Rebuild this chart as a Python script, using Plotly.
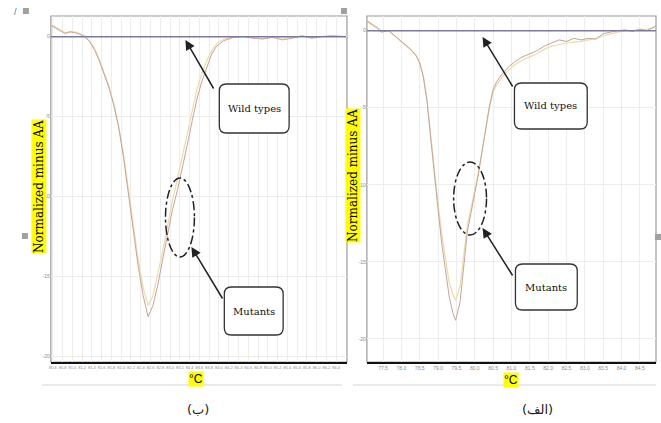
import plotly.graph_objects as go

W, H = 661, 423

# ---------------- data ----------------
# Panel (ب) - left
left_temp = [80.56, 80.65, 80.75, 80.85, 80.95, 81.05, 81.15, 81.25, 81.35, 81.45,
             81.55, 81.65, 81.75, 81.85, 81.95, 82.05, 82.15, 82.25, 82.35, 82.45,
             82.55, 82.65, 82.75, 82.85, 82.95, 83.05, 83.15, 83.25, 83.35, 83.45,
             83.55, 83.65, 83.75, 83.85, 83.95, 84.1, 84.3, 84.5, 84.7, 84.9,
             85.1, 85.3, 85.5, 85.7, 85.9, 86.1, 86.3, 86.6]
left_mutant_a = [0.7, 0.55, 0.35, 0.2, 0.3, 0.25, 0.15, 0.0, -0.3, -0.8,
                 -1.5, -2.3, -3.2, -4.3, -5.7, -7.6, -9.8, -12.2, -14.4, -16.2,
                 -17.5, -16.8, -15.5, -13.9, -12.3, -10.8, -9.6, -8.3, -6.8, -5.3,
                 -3.9, -2.8, -1.9, -1.1, -0.6, -0.25, -0.05, 0.0, -0.1, -0.15,
                 -0.05, -0.2, -0.1, 0.05, -0.1, 0.0, 0.05, 0.0]
left_mutant_b = [0.75, 0.6, 0.4, 0.25, 0.3, 0.3, 0.2, 0.05, -0.25, -0.7,
                 -1.4, -2.2, -3.1, -4.2, -5.6, -7.4, -9.6, -11.9, -14.0, -15.7,
                 -16.8, -16.2, -14.9, -13.4, -11.8, -10.2, -8.9, -7.5, -6.0, -4.6,
                 -3.3, -2.3, -1.5, -0.9, -0.45, -0.15, 0.0, 0.0, -0.05, -0.1,
                 0.0, -0.1, -0.05, 0.05, -0.05, 0.0, 0.05, 0.0]
left_wild_temp = [80.56, 86.6]
left_wild = [0.0, 0.0]
left_ticks = [80.6, 80.8, 81.0, 81.2, 81.4, 81.6, 81.8, 82.0, 82.2, 82.4,
              82.6, 82.8, 83.0, 83.2, 83.4, 83.6, 83.8, 84.0, 84.2, 84.4,
              84.6, 84.8, 85.0, 85.2, 85.4, 85.6, 85.8, 86.0, 86.2, 86.4]
left_tick_text = ["80.6", "80.8", "81.0", "81.2", "81.4", "81.6", "81.8", "82.0", "82.2", "82.4",
                  "82.6", "82.8", "83.0", "83.2", "83.4", "83.6", "83.8", "84.0", "84.2", "84.4",
                  "84.6", "84.8", "85.0", "85.2", "85.4", "85.6", "85.8", "86.0", "86.2", "86.4"]

# Panel (الف) - right
right_temp = [77.06, 77.2, 77.35, 77.45, 77.55, 77.65, 77.8, 77.95, 78.1, 78.25,
              78.4, 78.5, 78.6, 78.7, 78.8, 78.9, 79.0, 79.1, 79.2, 79.3,
              79.4, 79.48, 79.6, 79.7, 79.8, 79.9, 80.0, 80.1, 80.2, 80.3,
              80.4, 80.5, 80.6, 80.75, 80.9, 81.1, 81.3, 81.5, 81.7, 81.9,
              82.1, 82.3, 82.5, 82.7, 82.9, 83.1, 83.3, 83.5, 83.7, 83.9,
              84.1, 84.3, 84.5, 84.7, 84.94]
right_mutant_a = [0.6, 0.4, 0.15, -0.1, -0.05, 0.0, -0.3, -0.6, -0.9, -1.2,
                  -1.6, -2.1, -3.0, -4.6, -7.0, -9.5, -11.6, -13.8, -15.6, -17.2,
                  -18.3, -18.8, -17.6, -15.2, -13.0, -11.8, -10.6, -9.3, -7.8, -6.2,
                  -4.9, -3.8, -3.3, -2.8, -2.4, -2.0, -1.7, -1.5, -1.3, -1.0,
                  -0.8, -0.6, -0.7, -0.5, -0.6, -0.5, -0.55, -0.2, -0.1, 0.0,
                  0.05, -0.05, 0.1, 0.0, 0.3]
right_mutant_b = [0.65, 0.45, 0.2, 0.0, -0.05, 0.0, -0.3, -0.6, -0.95, -1.25,
                  -1.65, -2.1, -3.0, -4.5, -6.8, -9.2, -11.2, -13.2, -14.9, -16.3,
                  -17.1, -17.5, -16.6, -14.6, -12.6, -11.5, -10.4, -9.2, -7.8, -6.3,
                  -5.0, -4.0, -3.5, -3.0, -2.6, -2.2, -1.9, -1.7, -1.5, -1.2,
                  -1.0, -0.9, -0.8, -0.75, -0.7, -0.6, -0.5, -0.35, -0.2, -0.1,
                  0.0, 0.0, 0.05, 0.1, 0.25]
right_wild_temp = [77.06, 84.94]
right_wild = [0.0, 0.0]
right_ticks = [77.5, 78.0, 78.5, 79.0, 79.5, 80.0, 80.5, 81.0, 81.5, 82.0, 82.5, 83.0, 83.5, 84.0, 84.5]
right_tick_text = ["77.5", "78.0", "78.5", "79.0", "79.5", "80.0", "80.5", "81.0",
                   "81.5", "82.0", "82.5", "83.0", "83.5", "84.0", "84.5"]

y_ticks = [0, -5, -10, -15, -20]
y_tick_text = ["0", "-5", "-10", "-15", "-20"]

y_title = "Normalized minus AA"
x_title = "°C"
label_wild = "Wild types"
label_mut = "Mutants"
caption_left = "(ب)"
caption_right = "(الف)"

DARK = "#c6a39c"
LIGHT = "#ecdcaa"
ZERO = "#7a7a9c"
SERIF = "DejaVu Serif"


def px(x):
    return x / W


def py(y):
    return 1 - y / H


fig = go.Figure()

# left panel traces
fig.add_trace(go.Scatter(x=left_temp, y=left_mutant_b, mode="lines",
                         line=dict(color=LIGHT, width=1.2), xaxis="x", yaxis="y"))
fig.add_trace(go.Scatter(x=left_temp, y=left_mutant_a, mode="lines",
                         line=dict(color=DARK, width=1.0), xaxis="x", yaxis="y"))
fig.add_trace(go.Scatter(x=left_wild_temp, y=left_wild, mode="lines",
                         line=dict(color=ZERO, width=1.5), xaxis="x", yaxis="y"))
# right panel traces
fig.add_trace(go.Scatter(x=right_temp, y=right_mutant_b, mode="lines",
                         line=dict(color=LIGHT, width=1.2), xaxis="x2", yaxis="y2"))
fig.add_trace(go.Scatter(x=right_temp, y=right_mutant_a, mode="lines",
                         line=dict(color=DARK, width=1.0), xaxis="x2", yaxis="y2"))
fig.add_trace(go.Scatter(x=right_wild_temp, y=right_wild, mode="lines",
                         line=dict(color=ZERO, width=1.5), xaxis="x2", yaxis="y2"))

ltickfont = dict(family="Liberation Sans", size=4, color="#8a8a8a")
rtickfont = dict(family="Liberation Sans", size=5, color="#8a8a8a")
ytickfont = dict(family="Liberation Sans", size=5, color="#8a8a8a")

common_x = dict(showgrid=True, gridcolor="#ededed", gridwidth=1, zeroline=False,
                showline=True, linecolor="#111", linewidth=2, ticks="", tickangle=0,
                fixedrange=True)
common_y = dict(showgrid=True, gridcolor="#ededed", gridwidth=1, zeroline=False,
                showline=False, ticks="", tickfont=ytickfont, fixedrange=True,
                tickvals=y_ticks, ticktext=y_tick_text)

L_X0, L_X1, R_X0, R_X1 = 49, 346, 366, 656
TOP, BOT = 16, 362

fig.update_layout(
    width=W, height=H,
    margin=dict(l=0, r=0, t=0, b=0),
    paper_bgcolor="white", plot_bgcolor="white",
    showlegend=False,
    xaxis=dict(domain=[px(L_X0), px(L_X1)], range=[80.56, 86.62], tickfont=ltickfont,
               tickvals=left_ticks, ticktext=left_tick_text, anchor="y", **common_x),
    yaxis=dict(domain=[py(BOT), py(TOP)], range=[-20.33, 1.29], anchor="x", **common_y),
    xaxis2=dict(domain=[px(R_X0), px(R_X1)], range=[77.06, 84.94], tickfont=rtickfont,
                tickvals=right_ticks, ticktext=right_tick_text, anchor="y2", **common_x),
    yaxis2=dict(domain=[py(BOT), py(TOP)], range=[-21.5, 0.95], anchor="x2", **common_y),
)

shapes = []
# panel frames (grey)
for x0, x1 in [(L_X0, L_X1), (R_X0, R_X1)]:
    shapes.append(dict(type="rect", xref="paper", yref="paper",
                       x0=px(x0), x1=px(x1), y0=py(BOT), y1=py(TOP),
                       line=dict(color="#9a9a9a", width=1.2), layer="below"))
# separator lines under panels
shapes.append(dict(type="line", xref="paper", yref="paper", x0=px(40), x1=px(341),
                   y0=py(385), y1=py(385), line=dict(color="#d4d4d4", width=1)))
shapes.append(dict(type="line", xref="paper", yref="paper", x0=px(352), x1=px(656),
                   y0=py(385), y1=py(385), line=dict(color="#d4d4d4", width=1)))
# small grey handles
for (hx, hy) in [(343, 11), (23, 236), (658, 237), (24, 11)]:
    shapes.append(dict(type="rect", xref="paper", yref="paper",
                       x0=px(hx - 3), x1=px(hx + 3), y0=py(hy + 3), y1=py(hy - 3),
                       line=dict(width=0), fillcolor="#a0a0a0"))


def rrect(x0, y0, x1, y1, r):
    pts = [
        ("M", [(x0 + r, y0)]), ("L", [(x1 - r, y0)]), ("Q", [(x1, y0), (x1, y0 + r)]),
        ("L", [(x1, y1 - r)]), ("Q", [(x1, y1), (x1 - r, y1)]), ("L", [(x0 + r, y1)]),
        ("Q", [(x0, y1), (x0, y1 - r)]), ("L", [(x0, y0 + r)]), ("Q", [(x0, y0), (x0 + r, y0)]),
    ]
    s = ""
    for cmd, ps in pts:
        s += cmd + " " + " ".join(f"{px(a):.5f},{py(b):.5f}" for a, b in ps) + " "
    return s + "Z"


boxes = [
    (218, 84, 288, 133, label_wild),
    (223, 287, 282, 335, label_mut),
    (514, 83, 587, 129, label_wild),
    (515, 264, 577, 310, label_mut),
]
for x0, y0, x1, y1, txt in boxes:
    shapes.append(dict(type="path", xref="paper", yref="paper", path=rrect(x0, y0, x1, y1, 7),
                       line=dict(color="#333", width=1.3), fillcolor="white"))

# dash-dot ellipses
for x0, y0, x1, y1 in [(164, 178, 193, 257), (453, 162, 486, 235)]:
    shapes.append(dict(type="circle", xref="paper", yref="paper",
                       x0=px(x0), x1=px(x1), y0=py(y1), y1=py(y0),
                       line=dict(color="#222", width=1.5, dash="dashdot")))

fig.update_layout(shapes=shapes)

ann = []
for x0, y0, x1, y1, txt in boxes:
    ann.append(dict(xref="paper", yref="paper", x=px((x0 + x1) / 2), y=py((y0 + y1) / 2),
                    text=txt, showarrow=False, font=dict(family=SERIF, size=10, color="#111"),
                    xanchor="center", yanchor="middle"))

# arrows: head (hx, hy), tail (tx, ty)
for hx, hy, tx, ty in [(184, 40, 213, 90), (190, 247, 222, 300),
                       (482, 37, 513, 88), (482, 228, 513, 277)]:
    ann.append(dict(xref="paper", yref="paper", x=px(hx), y=py(hy), ax=tx - hx, ay=ty - hy,
                    axref="pixel", ayref="pixel", text="", showarrow=True,
                    arrowhead=2, arrowsize=1.3, arrowwidth=1.5, arrowcolor="#222"))

# y titles
for x, y in [(37, 186), (352, 175)]:
    ann.append(dict(xref="paper", yref="paper", x=px(x), y=py(y), text=y_title,
                    textangle=-90, showarrow=False, bgcolor="#ffff00", borderpad=0,
                    font=dict(family=SERIF, size=12, color="#000"),
                    xanchor="center", yanchor="middle"))
# x titles
for x, y in [(195, 379), (511, 380)]:
    ann.append(dict(xref="paper", yref="paper", x=px(x), y=py(y), text=x_title,
                    showarrow=False, bgcolor="#ffff00", borderpad=0,
                    font=dict(family="Liberation Sans", size=12, color="#000"),
                    xanchor="center", yanchor="middle"))
# captions
for x, y, t in [(197, 409, caption_left), (537, 409, caption_right)]:
    ann.append(dict(xref="paper", yref="paper", x=px(x), y=py(y), text=t,
                    showarrow=False, font=dict(family="DejaVu Sans", size=13, color="#222"),
                    xanchor="center", yanchor="middle"))
# tiny blue slash at top-left
ann.append(dict(xref="paper", yref="paper", x=px(14), y=py(12), text="/", showarrow=False,
                font=dict(family="Liberation Sans", size=9, color="#4a6fb0"),
                xanchor="center", yanchor="middle"))

fig.update_layout(annotations=ann)

fig.write_html("out.html")
